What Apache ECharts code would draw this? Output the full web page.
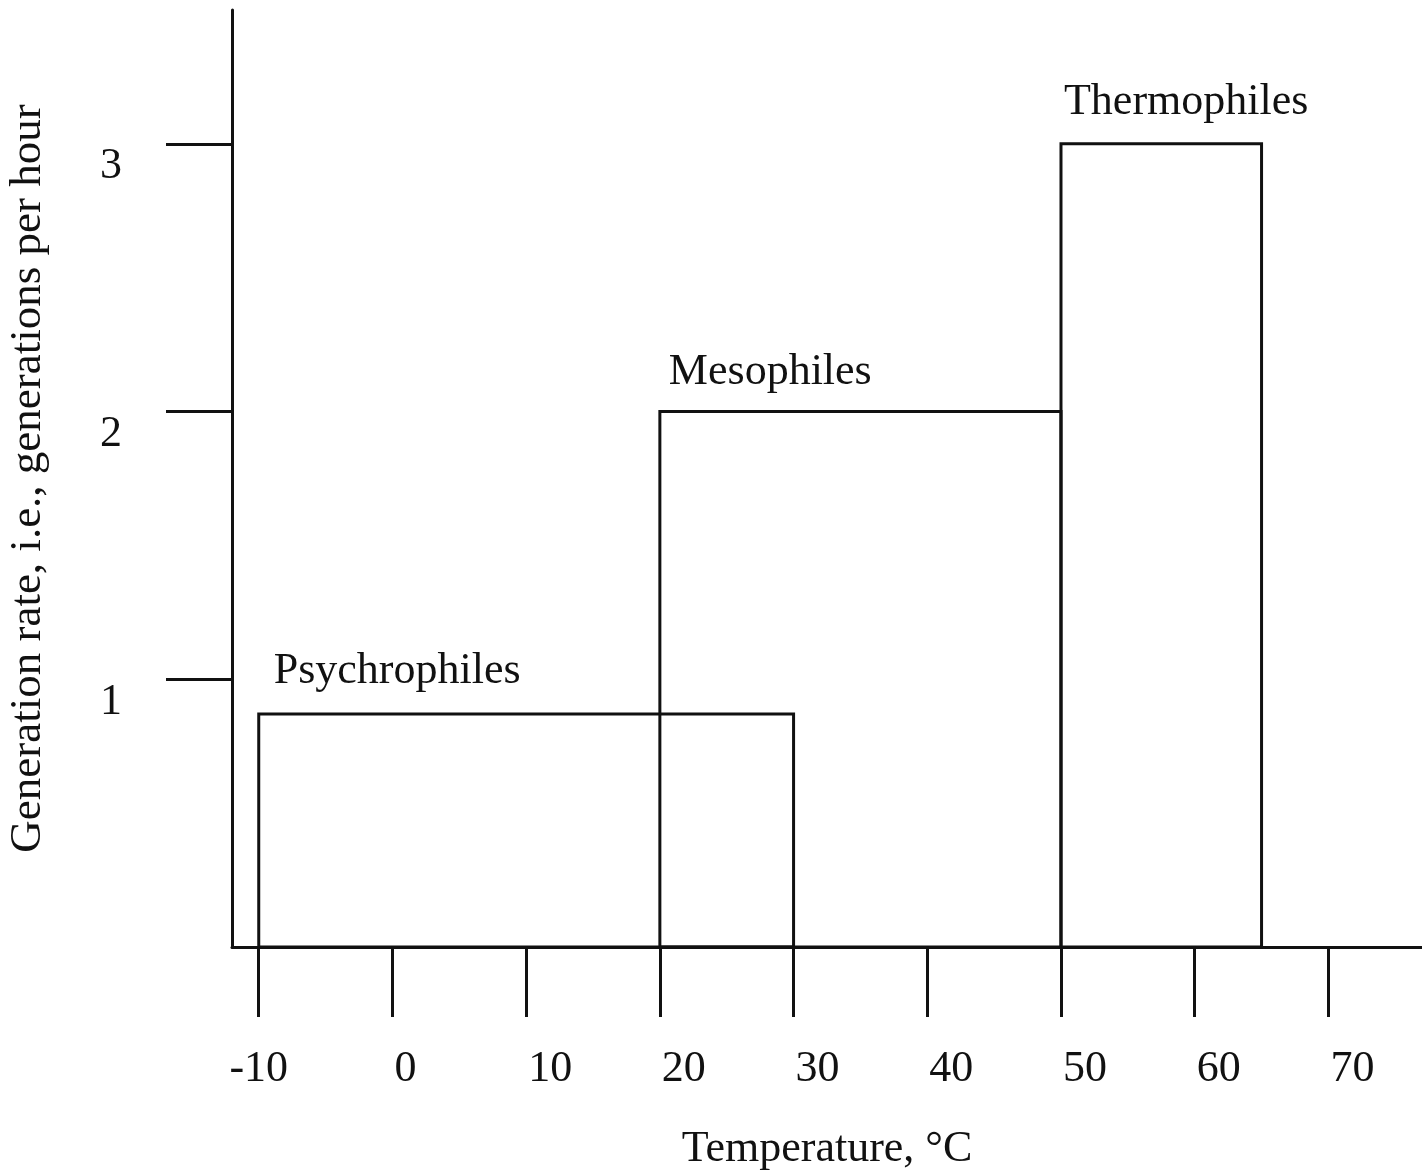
<!DOCTYPE html>
<html>
<head>
<meta charset="utf-8">
<script src="https://cdn.jsdelivr.net/npm/echarts@6/dist/echarts.min.js"></script>
<style>
  html, body { margin: 0; padding: 0; background: #ffffff; }
  #chart { width: 1422px; height: 1172px; }
</style>
</head>
<body>
<div id="chart"></div>
<script>
// ---- data ----
const groups = ['Psychrophiles', 'Mesophiles', 'Thermophiles'];
const tempMin = [-10, 20, 50];
const tempMax = [30, 50, 65];
const genRate = [0.87, 2, 3];
const xTickValues = [-10, 0, 10, 20, 30, 40, 50, 60, 70];
const yTickValues = [1, 2, 3];
const xTitle = 'Temperature, \u00B0C';
const yTitle = 'Generation rate, i.e., generations per hour';

// ---- layout / style (not data) ----
const FONT = '"Liberation Serif", "Times New Roman", serif';
const INK = '#111111';
const labelOffset = [[15, -43], [9, -39], [3, -41]];

const seriesData = groups.map((g, i) => [tempMin[i], tempMax[i], genRate[i]]);

const chart = echarts.init(document.getElementById('chart'), null, { renderer: 'canvas' });

function renderItem(params, api) {
  const x0 = api.value(0), x1 = api.value(1), h = api.value(2);
  const pTop = api.coord([x0, h]);
  const pBot = api.coord([x1, 0]);
  const off = labelOffset[params.dataIndex];
  return {
    type: 'group',
    children: [
      {
        type: 'rect',
        shape: { x: pTop[0], y: pTop[1], width: pBot[0] - pTop[0], height: pBot[1] - pTop[1] },
        style: { fill: 'none', stroke: INK, lineWidth: 3 }
      },
      {
        type: 'text',
        style: {
          text: groups[params.dataIndex],
          x: pTop[0] + off[0],
          y: pTop[1] + off[1],
          fill: INK,
          fontSize: 44,
          fontFamily: FONT,
          align: 'left',
          verticalAlign: 'middle'
        }
      }
    ]
  };
}

const option = {
  backgroundColor: '#ffffff',
  animation: false,
  grid: { left: 232, right: 0, top: 10, bottom: 225, outerBoundsMode: 'none', containLabel: false },
  xAxis: {
    type: 'value',
    min: -12,
    max: 77,
    name: xTitle,
    nameLocation: 'middle',
    nameGap: 202,
    nameTextStyle: { fontFamily: FONT, fontSize: 44, color: INK, verticalAlign: 'middle' },
    axisLine: { show: true, onZero: false, lineStyle: { color: INK, width: 3 } },
    axisTick: { show: true, customValues: xTickValues, length: 70, lineStyle: { color: INK, width: 3 } },
    axisLabel: {
      customValues: xTickValues,
      margin: 122,
      align: 'center',
      verticalAlign: 'middle',
      formatter: function (v) {
        const s = String(v);
        if (v < 0) return '{t|' + s + '}';
        return '{p' + s.length + '|}{t|' + s + '}';
      },
      rich: {
        t: { fontFamily: FONT, fontSize: 44, color: INK },
        p1: { width: 26, fontSize: 44 },
        p2: { width: 48, fontSize: 44 }
      }
    },
    splitLine: { show: false }
  },
  yAxis: {
    type: 'value',
    min: 0,
    max: 3.5,
    name: yTitle,
    nameLocation: 'middle',
    nameGap: 204,
    nameRotate: 90,
    nameTextStyle: { fontFamily: FONT, fontSize: 45, color: INK, verticalAlign: 'middle' },
    axisLine: { show: true, onZero: false, lineStyle: { color: INK, width: 3 } },
    axisTick: { show: true, customValues: yTickValues, length: 66, lineStyle: { color: INK, width: 3 } },
    axisLabel: {
      customValues: yTickValues,
      margin: 110,
      fontFamily: FONT,
      fontSize: 44,
      lineHeight: 46,
      color: INK,
      verticalAlign: 'top'
    },
    splitLine: { show: false }
  },
  series: [
    {
      type: 'custom',
      renderItem: renderItem,
      data: seriesData,
      encode: { x: [0, 1], y: 2 },
      clip: false
    }
  ]
};

chart.setOption(option);
</script>
</body>
</html>
